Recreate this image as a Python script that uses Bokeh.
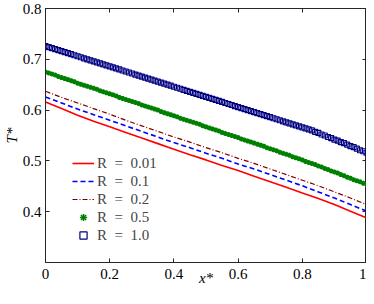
import numpy as np
from bokeh.plotting import figure
from bokeh.models import LinearAxis, FixedTicker, Range1d, Legend, LegendItem, CustomJSTickFormatter
from bokeh.embed import file_html
from bokeh.resources import INLINE

# ---- data ----
x_line = [0.00, 0.05, 0.10, 0.15, 0.20, 0.25, 0.30, 0.35, 0.40, 0.45, 0.50,
          0.55, 0.60, 0.65, 0.70, 0.75, 0.80, 0.85, 0.90, 0.95, 1.00]
T_R001 = [0.616, 0.603, 0.590, 0.578, 0.567, 0.556, 0.545, 0.534, 0.523, 0.512, 0.502,
          0.491, 0.481, 0.470, 0.459, 0.448, 0.437, 0.426, 0.414, 0.401, 0.388]
T_R01 = [0.626, 0.614, 0.602, 0.591, 0.580, 0.569, 0.558, 0.547, 0.536, 0.526, 0.515,
         0.505, 0.494, 0.484, 0.473, 0.462, 0.451, 0.439, 0.427, 0.414, 0.401]
T_R02 = [0.637, 0.625, 0.614, 0.603, 0.592, 0.580, 0.569, 0.558, 0.547, 0.537, 0.526,
         0.516, 0.505, 0.495, 0.484, 0.473, 0.462, 0.451, 0.439, 0.427, 0.414]

# marker series: 101 samples, x* = 0, 0.01, ..., 1
x_mark = np.linspace(0, 1, 101)
T_R05 = [0.675, 0.673, 0.671, 0.669, 0.666, 0.664, 0.662, 0.660, 0.658, 0.656,
         0.653, 0.651, 0.649, 0.647, 0.645, 0.643, 0.641, 0.638, 0.636, 0.634,
         0.632, 0.630, 0.628, 0.625, 0.623, 0.621, 0.619, 0.617, 0.615, 0.613,
         0.610, 0.608, 0.606, 0.604, 0.602, 0.600, 0.597, 0.595, 0.593, 0.591,
         0.589, 0.587, 0.584, 0.582, 0.580, 0.578, 0.576, 0.574, 0.572, 0.569,
         0.567, 0.565, 0.563, 0.561, 0.559, 0.556, 0.554, 0.552, 0.550, 0.548,
         0.546, 0.543, 0.541, 0.539, 0.537, 0.535, 0.533, 0.531, 0.529, 0.526,
         0.524, 0.522, 0.520, 0.517, 0.515, 0.513, 0.511, 0.508, 0.506, 0.504,
         0.502, 0.499, 0.497, 0.495, 0.493, 0.490, 0.488, 0.485, 0.483, 0.480,
         0.478, 0.476, 0.473, 0.471, 0.468, 0.466, 0.463, 0.461, 0.459, 0.456,
         0.454]
T_R10 = [0.726, 0.724, 0.722, 0.720, 0.718, 0.716, 0.714, 0.712, 0.710, 0.708,
         0.706, 0.704, 0.702, 0.700, 0.698, 0.696, 0.694, 0.692, 0.690, 0.688,
         0.686, 0.684, 0.682, 0.680, 0.678, 0.676, 0.674, 0.672, 0.670, 0.668,
         0.666, 0.664, 0.662, 0.660, 0.658, 0.656, 0.654, 0.652, 0.650, 0.648,
         0.646, 0.644, 0.642, 0.640, 0.638, 0.636, 0.634, 0.632, 0.630, 0.628,
         0.626, 0.624, 0.622, 0.620, 0.618, 0.616, 0.614, 0.612, 0.610, 0.608,
         0.606, 0.604, 0.602, 0.600, 0.598, 0.596, 0.594, 0.592, 0.590, 0.588,
         0.586, 0.584, 0.582, 0.580, 0.578, 0.576, 0.574, 0.572, 0.570, 0.568,
         0.566, 0.564, 0.562, 0.560, 0.557, 0.555, 0.552, 0.550, 0.547, 0.545,
         0.542, 0.540, 0.537, 0.535, 0.532, 0.529, 0.527, 0.524, 0.521, 0.519,
         0.516]

x_ticks = [0, 0.2, 0.4, 0.6, 0.8, 1]
y_ticks = [0.4, 0.5, 0.6, 0.7, 0.8]
labels = ["R\u2002=\u20020.01", "R\u2002=\u20020.1", "R\u2002=\u20020.2",
          "R\u2002=\u20020.5", "R\u2002=\u20021.0"]

FONT = "'Liberation Serif', 'Times New Roman', serif"
AX = "#262626"

p = figure(width=366, height=288, output_backend="svg", toolbar_location=None,
           x_range=Range1d(0, 1), y_range=Range1d(0.3, 0.8),
           min_border_left=0, min_border_right=0, min_border_top=8, min_border_bottom=0,
           x_axis_label="x*", y_axis_label="T*")
p.grid.visible = False
p.outline_line_color = AX
p.background_fill_color = "white"
p.border_fill_color = "white"

for ax in (p.xaxis[0], p.yaxis[0]):
    ax.major_tick_in = 4
    ax.major_tick_out = 0
    ax.minor_tick_in = 0
    ax.minor_tick_out = 0
    ax.axis_line_color = AX
    ax.major_tick_line_color = AX
    ax.major_label_text_font = FONT
    ax.major_label_text_font_size = "15px"
    ax.major_label_text_color = "black"
    ax.axis_label_text_font = FONT
    ax.axis_label_text_font_size = "15px"
    ax.axis_label_text_font_style = "italic"
    ax.axis_label_text_color = "black"

p.xaxis[0].ticker = FixedTicker(ticks=x_ticks)
p.yaxis[0].ticker = FixedTicker(ticks=y_ticks)
p.xaxis[0].major_label_overrides = {0: "0", 1: "1"}
p.xaxis[0].major_label_standoff = 6
p.xaxis[0].axis_label_standoff = -12
p.yaxis[0].major_label_standoff = 4
p.yaxis[0].axis_label_standoff = 0

# mirrored box axes (top / right) with inward ticks, no labels
blank = CustomJSTickFormatter(code="return ''")
top = LinearAxis(ticker=FixedTicker(ticks=x_ticks), formatter=blank,
                 major_tick_in=4, major_tick_out=0, minor_tick_in=0, minor_tick_out=0,
                 major_label_standoff=0, axis_line_color=AX, major_tick_line_color=AX)
right = LinearAxis(ticker=FixedTicker(ticks=y_ticks), formatter=blank,
                   major_tick_in=4, major_tick_out=0, minor_tick_in=0, minor_tick_out=0,
                   major_label_standoff=0, axis_line_color=AX, major_tick_line_color=AX)
p.add_layout(top, "above")
p.add_layout(right, "right")

r1 = p.line(x_line, T_R001, line_color="#ff0000", line_width=1.6)
r2 = p.line(x_line, T_R01, line_color="#0000ff", line_width=1.6, line_dash="5 3")
r3 = p.line(x_line, T_R02, line_color="#800000", line_width=1.2, line_dash="5 2 1 2")
r4 = p.scatter(x_mark, T_R05, marker="asterisk", size=5, line_color="#008000", line_width=1.5)
r5 = p.scatter(x_mark, T_R10, marker="square", size=5, line_color="#000080",
               fill_color=None, line_width=1.2)

legend = Legend(items=[LegendItem(label=l, renderers=[r]) for l, r in
                       zip(labels, [r1, r2, r3, r4, r5])],
                location=(25, 16), background_fill_alpha=0, border_line_alpha=0,
                label_text_font=FONT, label_text_font_size="15px",
                glyph_width=22, glyph_height=18, label_height=18, spacing=0,
                label_standoff=3, padding=2, margin=0)
p.add_layout(legend, "center")

open("out.html", "w").write(file_html(p, INLINE))
